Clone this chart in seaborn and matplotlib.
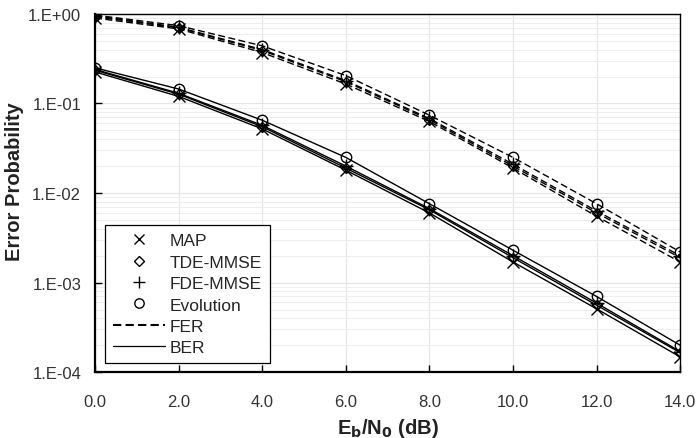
import numpy as np
import pandas as pd
import matplotlib
matplotlib.use("Agg")
import matplotlib.pyplot as plt
from matplotlib.lines import Line2D
from matplotlib.ticker import FixedLocator, FuncFormatter, LogLocator, NullFormatter
import seaborn as sns

snr = [0, 2, 4, 6, 8, 10, 12, 14]

fer_map = [0.90, 0.68, 0.37, 0.165, 0.063, 0.019, 0.0055, 0.0017]
fer_tde = [0.93, 0.70, 0.39, 0.175, 0.066, 0.020, 0.0060, 0.0019]
fer_fde = [0.95, 0.71, 0.40, 0.180, 0.068, 0.021, 0.0063, 0.0020]
fer_evo = [0.97, 0.74, 0.44, 0.205, 0.074, 0.025, 0.0076, 0.0022]

ber_map = [0.225, 0.12, 0.052, 0.018, 0.0060, 0.0017, 0.00051, 0.000148]
ber_tde = [0.235, 0.127, 0.055, 0.019, 0.0065, 0.0019, 0.00056, 0.000165]
ber_fde = [0.240, 0.130, 0.057, 0.020, 0.0067, 0.0020, 0.00059, 0.000170]
ber_evo = [0.250, 0.145, 0.065, 0.025, 0.0076, 0.0023, 0.00070, 0.000200]

methods = ["MAP", "TDE-MMSE", "FDE-MMSE", "Evolution"]
markers = {"MAP": "x", "TDE-MMSE": "D", "FDE-MMSE": "+", "Evolution": "o"}
msizes = {"MAP": 8.5, "TDE-MMSE": 5.5, "FDE-MMSE": 9.5, "Evolution": 7.5}
fer = {"MAP": fer_map, "TDE-MMSE": fer_tde, "FDE-MMSE": fer_fde, "Evolution": fer_evo}
ber = {"MAP": ber_map, "TDE-MMSE": ber_tde, "FDE-MMSE": ber_fde, "Evolution": ber_evo}

rows = []
for m in methods:
    for x, v in zip(snr, fer[m]):
        rows.append({"snr": x, "p": v, "method": m, "metric": "FER"})
    for x, v in zip(snr, ber[m]):
        rows.append({"snr": x, "p": v, "method": m, "metric": "BER"})
df = pd.DataFrame(rows)

sns.set_theme(style="white")
plt.rcParams["font.family"] = ["Liberation Sans", "DejaVu Sans"]

fig, ax = plt.subplots(figsize=(6.99, 4.39), dpi=100)
fig.subplots_adjust(left=0.136, right=0.973, top=0.966, bottom=0.150)

for m in methods:
    for metric, ls in (("FER", (0, (5, 2.5))), ("BER", "-")):
        sub = df[(df.method == m) & (df.metric == metric)]
        sns.lineplot(data=sub, x="snr", y="p", ax=ax, color="black",
                     linewidth=1.0, linestyle=ls, marker=markers[m],
                     markersize=msizes[m], markerfacecolor="none",
                     markeredgecolor="black", markeredgewidth=1.0,
                     legend=False, estimator=None, sort=False)

ax.set_yscale("log")
ax.set_ylim(1e-4, 1.0)
ax.set_xlim(0, 14)
ax.xaxis.set_major_locator(FixedLocator(snr))
ax.xaxis.set_major_formatter(FuncFormatter(lambda v, p: f"{v:.1f}"))
ax.yaxis.set_major_locator(FixedLocator([1e-4, 1e-3, 1e-2, 1e-1, 1.0]))
ax.yaxis.set_major_formatter(FuncFormatter(lambda v, p: "1.E{:+03d}".format(int(round(np.log10(v))))))
ax.yaxis.set_minor_locator(LogLocator(base=10, subs=np.arange(2, 10) * 1.0, numticks=20))
ax.yaxis.set_minor_formatter(NullFormatter())

ax.grid(True, which="major", color="#e4e4e4", linewidth=0.8)
ax.grid(True, which="minor", axis="y", color="#eeeeee", linewidth=0.7)
ax.tick_params(axis="both", which="major", direction="in", length=5, width=1,
               colors="black", labelsize=12, labelcolor="#333333",
               left=True, bottom=True)
ax.tick_params(axis="x", which="major", pad=16)
ax.tick_params(axis="y", which="major", pad=10)
ax.tick_params(axis="y", which="minor", left=False)

for side in ["left", "bottom"]:
    ax.spines[side].set_linewidth(1.6)
    ax.spines[side].set_color("black")
for side in ["top", "right"]:
    ax.spines[side].set_linewidth(1.0)
    ax.spines[side].set_color("black")

ax.set_xlabel(r"E$_\mathbf{b}$/N$_\mathbf{0}$ (dB)", fontsize=14.5, fontweight="bold",
              color="#222222", labelpad=4.5)
ax.set_ylabel("Error Probability", fontsize=14.5, fontweight="bold", color="#222222")
ax.yaxis.set_label_coords(-0.122, 0.534)

handles = [Line2D([], [], color="black", linestyle="none", marker=markers[m],
                  markersize=msizes[m] * 0.9, markerfacecolor="none",
                  markeredgewidth=1.0) for m in methods]
handles.append(Line2D([], [], color="black", linestyle=(0, (4, 2)), linewidth=1.5))
handles.append(Line2D([], [], color="black", linestyle="-", linewidth=0.9))
labels = methods + ["FER", "BER"]
leg = ax.legend(handles, labels, loc="lower left", bbox_to_anchor=(0.017, 0.025),
                borderaxespad=0,
                frameon=True, fancybox=False, edgecolor="black", fontsize=12.5,
                handlelength=3.0, handletextpad=0.3, borderpad=0.45,
                labelspacing=0.36, framealpha=1)
leg.get_frame().set_linewidth(0.9)

fig.savefig("out.png", dpi=100)
